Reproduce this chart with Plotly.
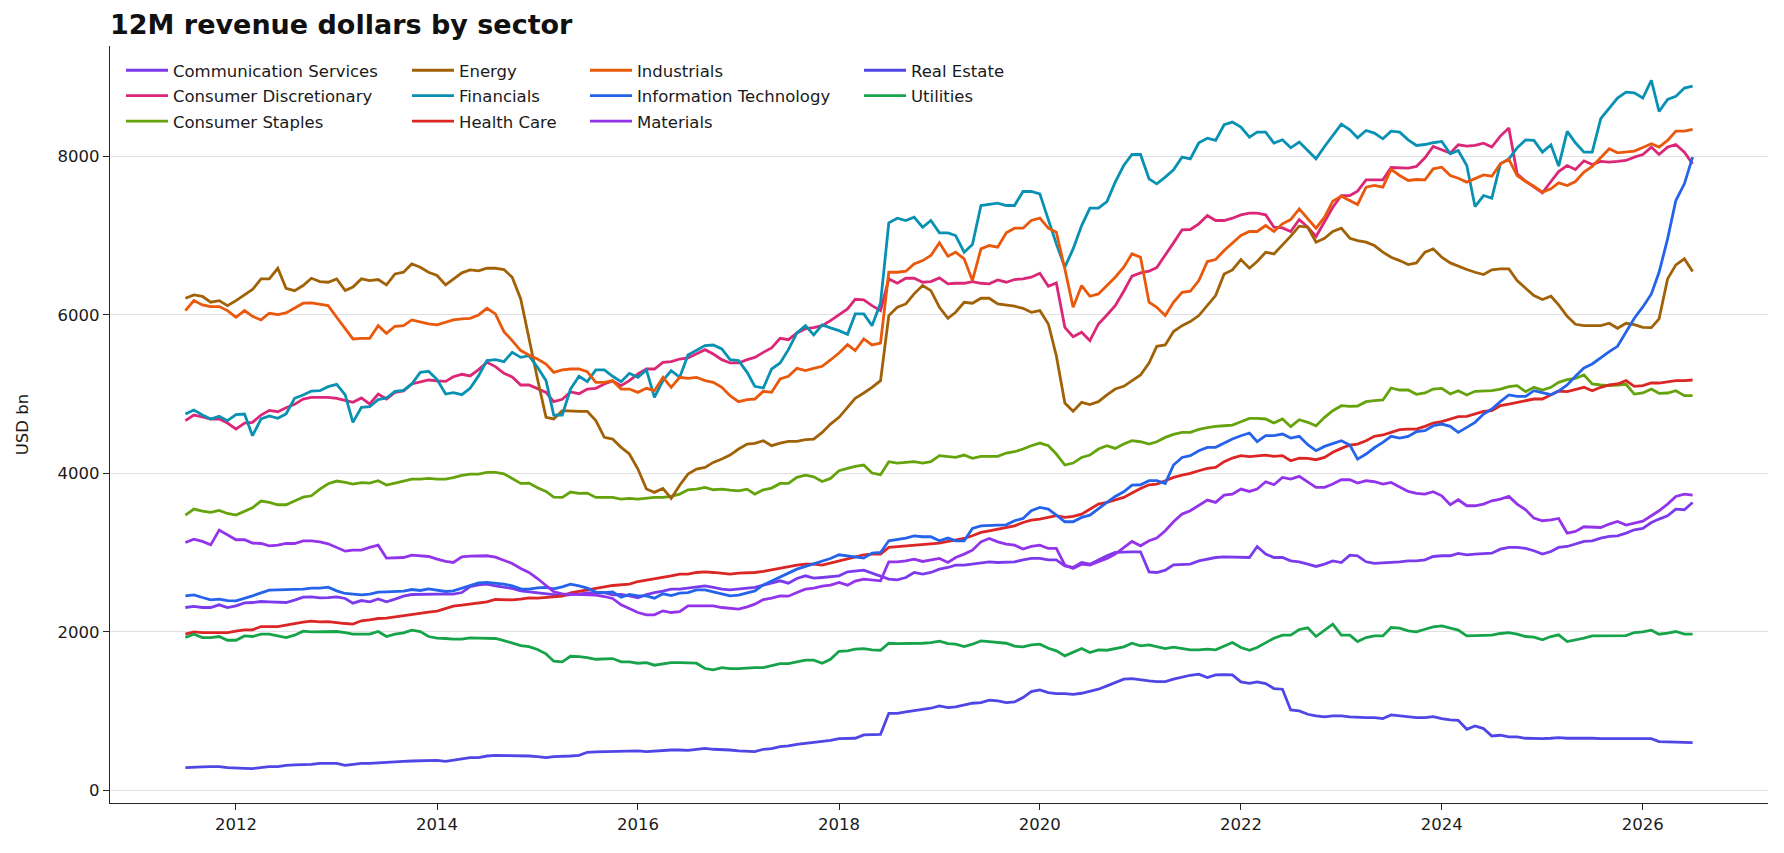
import pandas as pd
import plotly.graph_objects as go

START = "2011-07-01"
N_MONTHS = 181

comm_services = [
    2307, 2320, 2307, 2307, 2341, 2307, 2328, 2366, 2370, 2383, 2379, 2370, 2370, 2400, 2437, 2442, 2429, 2433, 2442, 2421, 2362, 2395, 2379, 2416, 2379, 2412,
    2450, 2471, 2475, 2475, 2475, 2475, 2475, 2496, 2572, 2593, 2602, 2581, 2568, 2547, 2517, 2505, 2496, 2480, 2463, 2458, 2471, 2475, 2492, 2496, 2496, 2467, 2471, 2454, 2429, 2471, 2496, 2513, 2538, 2538,
    2551, 2572, 2581, 2560, 2538, 2530, 2538, 2551, 2560, 2589, 2614, 2644, 2614, 2673, 2707, 2677, 2686, 2694, 2707, 2757, 2770, 2779, 2741, 2698, 2665, 2656, 2686, 2749, 2728, 2749, 2791, 2812, 2842,
    2842, 2854, 2867, 2884, 2875, 2875, 2884, 2909, 2926, 2926, 2909, 2909, 2833, 2812, 2875, 2854, 2909, 2960, 3002, 3010, 3010, 3010, 2757, 2749, 2779, 2846, 2854, 2854, 2896, 2917, 2938, 2947, 2947,
    2938, 2938, 3077, 2981, 2938, 2938, 2896, 2884, 2854, 2825, 2854, 2896, 2875, 2968, 2960, 2884, 2863, 2867, 2875, 2884, 2896, 2896, 2909, 2951, 2960, 2960, 2989, 2972, 2981, 2989, 2993, 3044, 3065, 3065,
    3052, 3023, 2981, 3014, 3065, 3077, 3107, 3141, 3149, 3183, 3204, 3212, 3246, 3288, 3305, 3380, 3423, 3465, 3549, 3541, 3633,
]

cons_discretionary = [
    4665, 4736, 4711, 4686, 4686, 4635, 4559, 4635, 4644, 4736, 4795, 4778, 4829, 4871, 4938, 4959, 4959, 4959, 4947, 4917, 4896, 4951, 4875, 5001, 4938, 5022,
    5039, 5128, 5149, 5178, 5166, 5161, 5220, 5250, 5229, 5309, 5401, 5347, 5262, 5216, 5115, 5115, 5069, 5022, 4905, 4934, 5027, 5005, 5064, 5073, 5128, 5166, 5107, 5170, 5254, 5317, 5317, 5401, 5410, 5443,
    5456, 5506, 5561, 5506, 5435, 5393, 5393, 5435, 5464, 5527, 5582, 5704, 5687, 5772, 5826, 5839, 5864, 5927, 6003, 6075, 6197, 6189, 6117, 6054, 6454, 6399, 6462, 6462, 6412, 6420, 6467, 6391, 6399,
    6399, 6420, 6399, 6391, 6441, 6412, 6446, 6454, 6475, 6525, 6361, 6403, 5843, 5725, 5780, 5675, 5885, 5999, 6117, 6298, 6488, 6530, 6551, 6597, 6748, 6909, 7073, 7077, 7149, 7254, 7191, 7191, 7220,
    7262, 7283, 7283, 7262, 7106, 7098, 7052, 7203, 7106, 6989, 7178, 7359, 7506, 7506, 7561, 7704, 7704, 7704, 7860, 7852, 7852, 7873, 7982, 8125, 8083, 8041, 8146, 8129, 8138, 8167, 8117, 8256, 8357, 7780,
    7687, 7612, 7540, 7683, 7809, 7885, 7835, 7944, 7898, 7936, 7927, 7936, 7948, 7990, 8024, 8117, 8024, 8117, 8150, 8054, 7906,
]

cons_staples = [
    3473, 3549, 3524, 3507, 3532, 3494, 3473, 3524, 3566, 3650, 3633, 3604, 3604, 3650, 3700, 3717, 3801, 3869, 3903, 3886, 3865, 3882, 3877, 3907, 3852, 3877,
    3903, 3928, 3928, 3936, 3928, 3928, 3945, 3974, 3991, 3991, 4012, 4012, 3995, 3936, 3873, 3877, 3818, 3772, 3700, 3696, 3764, 3747, 3751, 3696, 3696, 3696, 3675, 3684, 3675, 3688, 3696, 3696, 3709, 3738,
    3793, 3801, 3823, 3793, 3801, 3789, 3780, 3801, 3738, 3793, 3814, 3873, 3873, 3949, 3978, 3957, 3898, 3936, 4033, 4063, 4088, 4105, 4004, 3983, 4147, 4130, 4138, 4147, 4130, 4147, 4223, 4214, 4201,
    4231, 4189, 4214, 4214, 4214, 4256, 4273, 4307, 4349, 4382, 4349, 4244, 4105, 4130, 4201, 4231, 4307, 4349, 4315, 4370, 4412, 4399, 4370, 4399, 4454, 4492, 4517, 4517, 4555, 4576, 4593, 4601, 4610,
    4652, 4694, 4694, 4686, 4635, 4686, 4589, 4677, 4644, 4601, 4707, 4791, 4854, 4846, 4850, 4905, 4917, 4926, 5077, 5052, 5052, 4997, 5014, 5064, 5073, 5001, 5043, 4989, 5035, 5043, 5043, 5064, 5094, 5107,
    5031, 5086, 5052, 5086, 5149, 5182, 5199, 5241, 5128, 5115, 5107, 5115, 5124, 5001, 5014, 5064, 5010, 5014, 5043, 4980, 4980,
]

energy = [
    6210, 6252, 6235, 6160, 6180, 6117, 6180, 6250, 6320, 6454, 6454, 6588, 6336, 6306, 6370, 6462, 6420, 6412, 6454, 6306, 6350, 6454, 6433, 6446, 6378, 6517,
    6538, 6643, 6601, 6538, 6496, 6378, 6454, 6530, 6568, 6555, 6588, 6588, 6572, 6475, 6201, 5696, 5191, 4707, 4686, 4791, 4783, 4783, 4783, 4665, 4454, 4433, 4328, 4244, 4054, 3802, 3760, 3810, 3684, 3850,
    3991, 4054, 4075, 4138, 4180, 4231, 4307, 4370, 4378, 4412, 4349, 4382, 4404, 4404, 4425, 4433, 4517, 4622, 4707, 4833, 4947, 5014, 5085, 5170, 5991, 6096, 6138, 6265, 6370, 6306, 6096, 5957, 6033,
    6159, 6147, 6210, 6210, 6138, 6126, 6109, 6083, 6033, 6054, 5885, 5485, 4888, 4783, 4896, 4867, 4905, 4989, 5064, 5098, 5170, 5241, 5393, 5603, 5620, 5789, 5864, 5915, 5991, 6117, 6243, 6517, 6567,
    6698, 6589, 6673, 6791, 6770, 6883, 6993, 7119, 7106, 6917, 6967, 7052, 7094, 6967, 6938, 6917, 6875, 6791, 6728, 6685, 6635, 6656, 6791, 6833, 6728, 6656, 6614, 6572, 6538, 6509, 6568, 6580, 6580, 6433,
    6336, 6243, 6193, 6235, 6126, 5982, 5881, 5864, 5864, 5864, 5894, 5831, 5894, 5877, 5843, 5839, 5949, 6454, 6631, 6707, 6546,
]

financials = [
    4749, 4799, 4736, 4686, 4719, 4665, 4740, 4749, 4475, 4686, 4724, 4694, 4749, 4947, 4989, 5039, 5043, 5094, 5124, 4989, 4644, 4833, 4841, 4930, 4951, 5035,
    5048, 5128, 5275, 5288, 5183, 5001, 5018, 4993, 5073, 5233, 5422, 5435, 5410, 5528, 5464, 5485, 5338, 5170, 4736, 4736, 5064, 5225, 5157, 5305, 5305, 5225, 5157, 5262, 5212, 5305, 4959, 5170, 5296, 5212,
    5494, 5549, 5612, 5620, 5570, 5435, 5422, 5275, 5098, 5077, 5317, 5393, 5561, 5772, 5864, 5747, 5873, 5835, 5801, 5755, 6012, 6012, 5864, 6151, 7161, 7220, 7191, 7233, 7106, 7191, 7035, 7035, 7001,
    6791, 6888, 7380, 7397, 7410, 7380, 7380, 7557, 7557, 7527, 7191, 6896, 6601, 6833, 7127, 7346, 7346, 7430, 7675, 7885, 8024, 8024, 7717, 7654, 7738, 7830, 7990, 7969, 8172, 8230, 8201, 8399, 8433,
    8369, 8243, 8306, 8306, 8167, 8209, 8108, 8180, 8066, 7969, 8125, 8264, 8407, 8336, 8235, 8327, 8294, 8222, 8319, 8306, 8209, 8138, 8150, 8172, 8188, 8033, 8075, 7885, 7367, 7506, 7473, 7906, 7969, 8108,
    8209, 8201, 8054, 8146, 7877, 8315, 8172, 8054, 8054, 8475, 8601, 8736, 8811, 8803, 8736, 8959, 8567, 8719, 8757, 8862, 8887,
]

health_care = [
    1970, 2000, 1991, 1991, 2000, 1991, 2008, 2025, 2025, 2067, 2067, 2067, 2084, 2105, 2122, 2134, 2126, 2130, 2122, 2105, 2097, 2139, 2151, 2168, 2172, 2189,
    2198, 2214, 2231, 2248, 2261, 2299, 2324, 2336, 2349, 2357, 2379, 2408, 2404, 2404, 2412, 2429, 2425, 2433, 2433, 2450, 2492, 2513, 2534, 2551, 2568, 2585, 2589, 2602, 2635, 2652, 2665, 2686, 2707, 2728,
    2728, 2749, 2757, 2749, 2736, 2728, 2741, 2741, 2749, 2762, 2783, 2804, 2825, 2842, 2854, 2854, 2842, 2867, 2896, 2926, 2947, 2972, 2981, 2981, 3065, 3073, 3086, 3094, 3103, 3103, 3120, 3141, 3162,
    3178, 3212, 3254, 3275, 3296, 3317, 3338, 3380, 3410, 3423, 3444, 3465, 3444, 3456, 3486, 3549, 3612, 3633, 3667, 3696, 3751, 3810, 3856, 3865, 3907, 3949, 3978, 3999, 4033, 4063, 4075, 4147, 4193,
    4223, 4210, 4223, 4231, 4214, 4223, 4159, 4193, 4189, 4172, 4202, 4265, 4315, 4357, 4370, 4412, 4467, 4484, 4517, 4551, 4559, 4559, 4593, 4635, 4652, 4686, 4715, 4719, 4749, 4783, 4791, 4854, 4875, 4896,
    4917, 4938, 4938, 4989, 5039, 5031, 5056, 5086, 5043, 5086, 5115, 5128, 5170, 5098, 5107, 5140, 5140, 5157, 5170, 5170, 5178,
]

industrials = [
    6054, 6180, 6126, 6105, 6105, 6054, 5970, 6054, 5982, 5936, 6020, 6003, 6024, 6083, 6147, 6151, 6138, 6117, 5970, 5822, 5696, 5704, 5704, 5864, 5767, 5856,
    5864, 5936, 5907, 5885, 5873, 5907, 5936, 5949, 5957, 5999, 6083, 6012, 5789, 5675, 5549, 5494, 5443, 5380, 5275, 5305, 5317, 5317, 5283, 5149, 5149, 5170, 5064, 5064, 5022, 5073, 5043, 5212, 5085, 5212,
    5199, 5212, 5170, 5149, 5085, 4980, 4905, 4930, 4938, 5035, 5022, 5191, 5225, 5326, 5296, 5326, 5351, 5431, 5519, 5624, 5549, 5696, 5620, 5645, 6538, 6538, 6551, 6643, 6685, 6749, 6909, 6740, 6791,
    6707, 6433, 6833, 6875, 6854, 7035, 7094, 7094, 7191, 7220, 7094, 7043, 6580, 6096, 6370, 6235, 6264, 6370, 6475, 6601, 6770, 6728, 6159, 6096, 5991, 6159, 6285, 6298, 6433, 6673, 6698, 6812, 6909,
    7001, 7052, 7052, 7127, 7052, 7149, 7203, 7338, 7212, 7094, 7233, 7435, 7498, 7443, 7393, 7612, 7633, 7612, 7835, 7759, 7696, 7708, 7704, 7843, 7864, 7759, 7725, 7675, 7725, 7767, 7750, 7906, 7961, 7759,
    7683, 7624, 7548, 7591, 7666, 7633, 7683, 7801, 7873, 7978, 8096, 8045, 8054, 8066, 8113, 8159, 8117, 8201, 8319, 8319, 8340,
]

info_tech = [
    2454, 2467, 2433, 2404, 2412, 2395, 2391, 2421, 2454, 2492, 2526, 2530, 2530, 2530, 2538, 2551, 2551, 2564, 2517, 2484, 2475, 2467, 2475, 2501, 2505, 2509,
    2513, 2534, 2522, 2543, 2530, 2509, 2517, 2551, 2593, 2618, 2623, 2614, 2602, 2581, 2543, 2538, 2555, 2560, 2543, 2568, 2602, 2581, 2551, 2501, 2496, 2505, 2437, 2471, 2454, 2454, 2425, 2480, 2458, 2488,
    2496, 2530, 2530, 2505, 2475, 2454, 2463, 2496, 2517, 2593, 2644, 2698, 2741, 2791, 2825, 2854, 2884, 2926, 2972, 2960, 2951, 2930, 2993, 3002, 3149, 3162, 3183, 3212, 3200, 3200, 3149, 3183, 3149,
    3149, 3305, 3338, 3347, 3347, 3351, 3402, 3431, 3528, 3570, 3549, 3473, 3389, 3389, 3444, 3473, 3557, 3633, 3709, 3768, 3852, 3856, 3907, 3907, 3873, 4105, 4201, 4223, 4286, 4328, 4328, 4382, 4433,
    4475, 4509, 4399, 4475, 4475, 4496, 4446, 4467, 4361, 4286, 4340, 4378, 4412, 4357, 4180, 4244, 4323, 4391, 4467, 4446, 4467, 4526, 4538, 4601, 4622, 4593, 4517, 4580, 4644, 4749, 4812, 4905, 4989, 4972,
    4972, 5043, 5014, 4993, 5039, 5115, 5225, 5330, 5380, 5460, 5536, 5603, 5788, 5957, 6100, 6264, 6538, 6959, 7443, 7654, 7990,
]

materials = [
    3128, 3170, 3141, 3098, 3284, 3225, 3162, 3162, 3120, 3115, 3086, 3094, 3115, 3115, 3149, 3149, 3136, 3111, 3061, 3018, 3031, 3031, 3065, 3094, 2930, 2930,
    2938, 2968, 2960, 2951, 2917, 2888, 2875, 2947, 2955, 2960, 2960, 2943, 2905, 2863, 2800, 2749, 2673, 2589, 2505, 2480, 2475, 2475, 2471, 2463, 2446, 2421, 2341, 2290, 2244, 2214, 2214, 2265, 2244, 2256,
    2328, 2328, 2328, 2328, 2307, 2294, 2286, 2315, 2349, 2408, 2425, 2454, 2450, 2496, 2538, 2551, 2576, 2589, 2623, 2589, 2640, 2665, 2652, 2644, 2884, 2884, 2896, 2917, 2888, 2909, 2926, 2875, 2938,
    2981, 3031, 3136, 3178, 3136, 3107, 3094, 3044, 3077, 3094, 3052, 3052, 2842, 2800, 2854, 2842, 2884, 2926, 2981, 3065, 3141, 3086, 3149, 3183, 3275, 3389, 3486, 3528, 3591, 3663, 3633, 3726, 3738,
    3802, 3772, 3802, 3894, 3856, 3949, 3928, 3962, 3886, 3823, 3823, 3865, 3919, 3919, 3877, 3907, 3894, 3865, 3886, 3831, 3772, 3747, 3738, 3768, 3717, 3604, 3667, 3591, 3591, 3612, 3654, 3675, 3709, 3612,
    3541, 3435, 3402, 3414, 3431, 3246, 3267, 3326, 3317, 3317, 3360, 3393, 3347, 3368, 3397, 3465, 3528, 3612, 3709, 3738, 3726,
]

real_estate = [
    286, 295, 295, 299, 299, 286, 286, 278, 274, 286, 299, 299, 316, 320, 320, 328, 341, 341, 341, 316, 328, 341, 341, 349, 358, 362,
    366, 370, 375, 379, 379, 366, 383, 396, 412, 412, 433, 442, 442, 442, 442, 433, 425, 412, 425, 425, 433, 442, 480, 484, 488, 488, 497, 497, 497, 488, 497, 505, 509, 509,
    505, 518, 530, 518, 518, 509, 497, 488, 488, 518, 526, 551, 560, 581, 593, 602, 610, 631, 652, 652, 657, 699, 707, 707, 972, 972, 989, 1002, 1014, 1036, 1065, 1044, 1052,
    1078, 1099, 1107, 1137, 1128, 1107, 1116, 1170, 1246, 1267, 1233, 1221, 1221, 1212, 1225, 1246, 1276, 1318, 1360, 1402, 1410, 1393, 1381, 1372, 1372, 1402, 1431, 1452, 1465, 1423, 1456, 1461, 1456,
    1368, 1351, 1368, 1347, 1284, 1276, 1014, 1002, 960, 939, 926, 939, 939, 926, 918, 918, 918, 905, 951, 939, 926, 918, 918, 930, 905, 888, 884, 770, 812, 779, 686, 695, 674, 674,
    657, 653, 653, 657, 665, 657, 657, 665, 657, 653, 657, 653, 653, 653, 644, 653, 615, 610, 610, 602, 602,
]

utilities = [
    1928, 1970, 1928, 1928, 1941, 1894, 1894, 1949, 1941, 1970, 1970, 1949, 1928, 1958, 2008, 2000, 2000, 2000, 2004, 1991, 1970, 1970, 1970, 2004, 1941, 1970,
    1987, 2021, 2004, 1941, 1920, 1916, 1907, 1907, 1924, 1920, 1920, 1916, 1890, 1861, 1827, 1814, 1777, 1722, 1629, 1621, 1692, 1688, 1676, 1654, 1663, 1663, 1621, 1621, 1604, 1612, 1579, 1600, 1612, 1612,
    1604, 1604, 1537, 1520, 1549, 1537, 1537, 1545, 1549, 1549, 1570, 1600, 1600, 1625, 1642, 1642, 1604, 1654, 1755, 1760, 1781, 1789, 1772, 1768, 1856, 1852, 1852, 1852, 1856, 1865, 1882, 1852, 1844,
    1814, 1844, 1886, 1878, 1873, 1856, 1819, 1810, 1836, 1844, 1793, 1760, 1697, 1739, 1789, 1739, 1772, 1768, 1789, 1810, 1856, 1823, 1836, 1814, 1789, 1806, 1793, 1772, 1772, 1781, 1772, 1823, 1865,
    1802, 1768, 1802, 1861, 1920, 1958, 1958, 2029, 2050, 1941, 2025, 2097, 1958, 1958, 1878, 1928, 1949, 1949, 2054, 2046, 2012, 2000, 2033, 2063, 2075, 2046, 2021, 1949, 1949, 1949, 1958, 1979, 1991, 1970,
    1941, 1932, 1899, 1941, 1962, 1878, 1894, 1920, 1949, 1949, 1949, 1949, 1953, 1991, 2000, 2021, 1970, 1983, 2004, 1970, 1970,
]

x_tick_years = [2012, 2014, 2016, 2018, 2020, 2022, 2024, 2026]
y_tick_values = [0, 2000, 4000, 6000, 8000]

series = [
    ("Communication Services", comm_services, "#7c3aed", "legend"),
    ("Consumer Discretionary", cons_discretionary, "#db2777", "legend"),
    ("Consumer Staples", cons_staples, "#65a30d", "legend"),
    ("Energy", energy, "#a16207", "legend2"),
    ("Financials", financials, "#0891b2", "legend2"),
    ("Health Care", health_care, "#dc2626", "legend2"),
    ("Industrials", industrials, "#ea580c", "legend3"),
    ("Information Technology", info_tech, "#2563eb", "legend3"),
    ("Materials", materials, "#9333ea", "legend3"),
    ("Real Estate", real_estate, "#4f46e5", "legend4"),
    ("Utilities", utilities, "#16a34a", "legend4"),
]

dates = pd.date_range(START, periods=N_MONTHS, freq="MS")
for name, vals, _, _ in series:
    if len(vals) != N_MONTHS:
        raise ValueError(f"{name}: {len(vals)} values")

FONT = "DejaVu Sans"
fig = go.Figure()
for name, vals, color, leg in series:
    fig.add_trace(go.Scatter(
        x=dates, y=vals, mode="lines", name=name,
        line=dict(color=color, width=2.8),
        legend=leg, legendgroup=name,
    ))

PLOT_L, PLOT_R, PLOT_T, PLOT_B = 110, 1768, 46, 803
W, H = 1784, 853
pw = PLOT_R - PLOT_L
ph = PLOT_B - PLOT_T


def lx(px):
    return (px - PLOT_L) / pw


ITEM_W = 42
leg_common = dict(
    font=dict(family=FONT, size=16.5, color="#1a1a1a"),
    bgcolor="rgba(255,255,255,0)", borderwidth=0,
    orientation="v", yanchor="top", xanchor="left",
    y=1 - 7 / ph, tracegroupgap=1, itemwidth=ITEM_W,
)
text_x = [175, 461, 639, 913]
legends = {}
for k, key in enumerate(["legend", "legend2", "legend3", "legend4"]):
    legends[key] = dict(leg_common, x=lx(text_x[k] - ITEM_W - 12))

fig.update_layout(
    width=W, height=H,
    margin=dict(l=PLOT_L, r=W - PLOT_R, t=PLOT_T, b=H - PLOT_B),
    paper_bgcolor="white", plot_bgcolor="white",
    font=dict(family=FONT, size=16.5, color="#1a1a1a"),
    title=dict(
        text="<b>12M revenue dollars by sector</b>",
        x=PLOT_L / W, xanchor="left", xref="container",
        y=1 - 25 / H, yanchor="middle", yref="container",
        font=dict(family=FONT, size=27, color="#111111"),
    ),
    showlegend=True,
    **legends,
)

fig.update_xaxes(
    type="date",
    range=["2010-09-30", "2027-04-01"],
    tickvals=[f"{y}-01-01" for y in x_tick_years],
    ticktext=[str(y) for y in x_tick_years],
    showgrid=False, zeroline=False,
    showline=True, linecolor="#262626", linewidth=1.3,
    ticks="outside", ticklen=6, tickwidth=1.3, tickcolor="#262626",
    tickfont=dict(family=FONT, size=16.5, color="#1a1a1a"),
)
fig.update_yaxes(
    range=[-160, 9393],
    tickvals=y_tick_values,
    ticktext=[str(v) for v in y_tick_values],
    showgrid=True, gridcolor="#e0e0e6", gridwidth=1,
    zeroline=False,
    showline=True, linecolor="#262626", linewidth=1.3,
    ticks="outside", ticklen=6, tickwidth=1.3, tickcolor="#262626",
    tickfont=dict(family=FONT, size=16.5, color="#1a1a1a"),
    title=dict(text="USD bn", font=dict(family=FONT, size=16.5, color="#1a1a1a"), standoff=24),
)

fig.write_html("out.html")
